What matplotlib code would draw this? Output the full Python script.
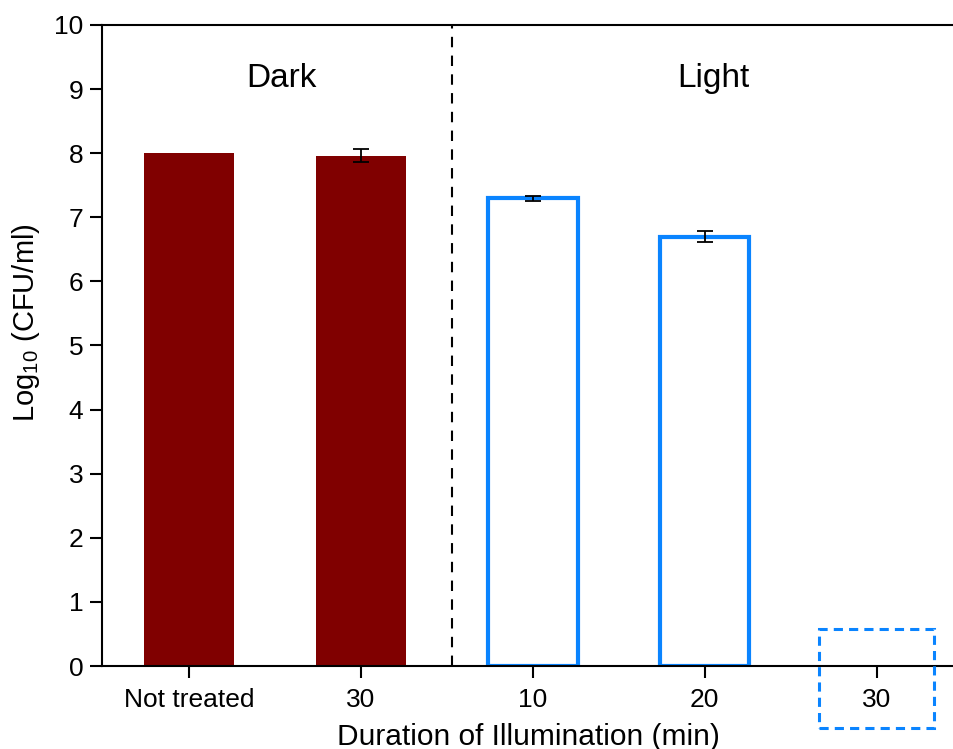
import numpy as np
import matplotlib.pyplot as plt
from matplotlib.patches import Rectangle

plt.rcParams['font.family'] = ['Liberation Sans', 'DejaVu Sans']
plt.rcParams['mathtext.fontset'] = 'custom'
plt.rcParams['mathtext.rm'] = 'Liberation Sans'

# ----------------------------
# Data
# ----------------------------
categories = ["Not treated", "30", "10", "20", "30"]
dark_values = [8.0, 7.96]
dark_errors = [0.0, 0.10]
light_values = [7.30, 6.70]
light_errors = [0.04, 0.08]
empty_bar_top = 0.58        # the "30" light bar: nothing survived (dashed placeholder)
group_labels = ["Dark", "Light"]

dark_red = "#800000"
blue = "#0a84ff"

fig = plt.figure(figsize=(9.54, 7.49), dpi=100)
ax = fig.add_axes([102 / 954, 1 - 666 / 749, 1 - 102 / 954, (666 - 25) / 749])

x = np.arange(len(categories))
w = 0.52

ax.bar(x[:2], dark_values, width=w, color=dark_red, zorder=2)
ax.errorbar(x[1], dark_values[1], yerr=dark_errors[1], fmt="none",
            ecolor="black", elinewidth=1.3, capsize=6, capthick=1.3, zorder=3)

ax.bar(x[2:4], light_values, width=w, facecolor="white", edgecolor=blue,
       linewidth=3, zorder=2)
ax.errorbar(x[2:4], light_values, yerr=light_errors, fmt="none",
            ecolor="black", elinewidth=1.3, capsize=6, capthick=1.3, zorder=3)

# dashed placeholder box for the 30 min light sample (extends below the axis)
box_w = 0.67
ax.add_patch(Rectangle((x[4] - box_w / 2, -0.97), box_w, empty_bar_top + 0.97,
                       fill=False, edgecolor=blue, linestyle=(0, (3, 2)),
                       linewidth=2.2, clip_on=False, zorder=4))

# separator between dark and light groups
ax.axvline(1.53, ymin=0, ymax=1, color="black", linestyle=(0, (5, 4)),
           linewidth=1.5, zorder=1)

ax.text(0.535, 9.17, group_labels[0], ha="center", va="center", fontsize=24)
ax.text(3.05, 9.17, group_labels[1], ha="center", va="center", fontsize=24)

ax.set_xlim(-0.506, 4.45)
ax.set_ylim(0, 10)
ax.set_yticks(np.arange(0, 11, 1))
ax.set_xticks(x)
ax.set_xticklabels(categories)
ax.tick_params(axis="both", direction="out", length=8.5, width=1.5,
               labelsize=19)
ax.tick_params(axis="x", pad=7)
ax.tick_params(axis="y", pad=5)

for side in ["left", "top", "bottom"]:
    ax.spines[side].set_linewidth(1.5)
ax.spines["right"].set_visible(False)

ax.set_xlabel("Duration of Illumination (min)", fontsize=21.5, labelpad=8)
ax.set_ylabel(r"Log$_{10}$ (CFU/ml)", fontsize=21)
ax.yaxis.set_label_coords(-0.070, 0.535)

fig.savefig("out.png", dpi=100)
